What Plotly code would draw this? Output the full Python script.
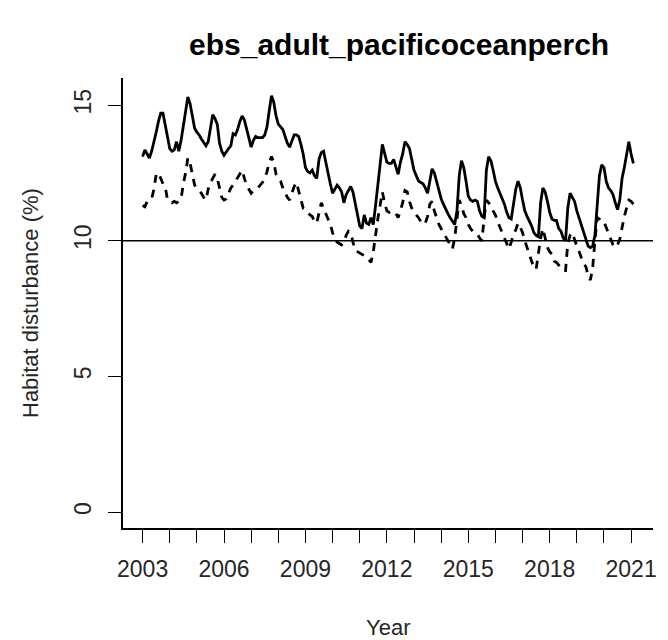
import plotly.graph_objects as go

title_text = "ebs_adult_pacificoceanperch"
x_title = "Year"
y_title = "Habitat disturbance (%)"
start_year = 2003
year_ticks = list(range(2003, 2022))
year_labels = ["2003", "", "", "2006", "", "", "2009", "", "", "2012", "", "",
               "2015", "", "", "2018", "", "", "2021"]
y_ticks = [0, 5, 10, 15]
reference_level = 10

# monthly values, Jan 2003 onward
solid_values = [
    13.1, 13.35, 13.2, 13.05, 13.3, 13.6, 14.0, 14.4, 14.7, 14.7, 14.3, 13.9,
    13.4, 13.3, 13.35, 13.65, 13.3, 13.7, 14.3, 14.9, 15.3, 15.05, 14.6, 14.15,
    14.0, 13.9, 13.75, 13.6, 13.5, 13.65, 14.2, 14.65, 14.5, 14.3, 13.6, 13.3,
    13.15, 13.3, 13.4, 13.5, 13.95, 13.9, 14.1, 14.4, 14.6, 14.45, 14.1, 13.8,
    13.45, 13.7, 13.85, 13.8, 13.8, 13.8, 13.9, 14.2, 14.8, 15.35, 15.1, 14.6,
    14.3, 14.2, 14.1, 13.85, 13.6, 13.45, 13.7, 13.9, 13.9, 13.85, 13.55, 13.2,
    12.7, 12.55, 12.5, 12.6, 12.4, 12.3, 13.0, 13.25, 13.3, 12.95, 12.5, 12.1,
    11.75, 11.9, 12.05, 11.95, 11.8, 11.4, 11.7, 11.85, 12.0, 11.8, 11.35, 10.95,
    10.55, 10.45, 10.95, 10.65, 10.6, 10.85, 10.6, 11.3, 11.95, 12.8, 13.55, 13.2,
    12.9, 12.85, 12.85, 13.0, 12.7, 12.45, 12.9, 13.2, 13.65, 13.55, 13.4, 13.0,
    12.6, 12.4, 12.2, 12.15, 12.1, 11.95, 11.75, 12.2, 12.65, 12.5, 12.15, 11.8,
    11.55, 11.35, 11.15, 11.0, 10.85, 10.7, 10.6, 11.1, 12.4, 12.95, 12.7, 12.2,
    11.65, 11.5, 11.45, 11.5, 11.45, 11.1, 10.9, 10.85, 12.6, 13.1, 12.95, 12.6,
    12.2, 11.95, 11.75, 11.6, 11.35, 11.05, 10.85, 10.8, 11.3, 11.9, 12.2, 11.95,
    11.5, 11.1, 10.9, 10.75, 10.55, 10.3, 10.2, 10.15, 11.4, 11.95, 11.8, 11.45,
    11.05, 10.8, 10.75, 10.75, 10.45, 10.35, 10.1, 10.0, 11.2, 11.75, 11.6, 11.45,
    11.1, 10.85, 10.6, 10.35, 10.1, 9.8, 9.75, 9.8, 10.2, 11.5, 12.4, 12.8,
    12.7, 12.2, 11.95, 11.85, 11.7, 11.4, 11.15, 11.5, 12.3, 12.7, 13.2, 13.65,
    13.2, 12.85,
]

dashed_values = [
    11.3, 11.25, 11.45, 11.5, 11.55, 11.9, 12.45, 12.5, 12.3, 12.1, 12.0, 11.5,
    11.45, 11.4, 11.45, 11.4, 11.45, 11.55, 12.1, 12.5, 13.05, 12.85, 12.45, 12.05,
    11.95, 11.85, 11.75, 11.6, 11.5, 11.9, 12.15, 12.3, 12.45, 12.3, 11.9, 11.6,
    11.5, 11.55, 11.75, 11.95, 12.05, 12.2, 12.35, 12.5, 12.6, 12.3, 12.05, 11.9,
    11.75, 11.85, 11.9, 11.95, 12.05, 12.15, 12.3, 12.55, 12.9, 13.1, 12.9, 12.45,
    12.3, 12.2, 11.95, 11.75, 11.6, 11.5, 11.75, 12.0, 12.15, 11.85, 11.55, 11.2,
    11.15, 11.05, 10.95, 10.9, 10.7, 10.65, 11.1, 11.4, 11.2, 11.0, 10.8, 10.6,
    10.3, 10.05, 9.95, 9.9, 9.85, 9.95, 10.2, 10.35, 10.3, 9.95, 9.65, 9.6,
    9.55, 9.5, 9.45, 9.4, 9.3, 9.2, 9.6, 10.25, 10.8, 11.3, 11.8, 11.4,
    11.1, 11.05, 11.1, 11.05, 11.0, 10.85, 11.15, 11.4, 11.85, 11.8, 11.45, 11.2,
    11.05, 10.95, 10.85, 10.7, 10.6, 10.65, 10.9, 11.35, 11.45, 11.1, 10.85, 10.6,
    10.45, 10.3, 10.15, 10.0, 9.85, 9.7, 10.1, 10.8, 11.5, 11.3, 11.0, 10.85,
    10.6, 10.45, 10.35, 10.3, 10.25, 10.1, 10.0, 10.8, 11.5, 11.4, 11.3, 11.1,
    10.95, 10.7, 10.5, 10.3, 10.05, 9.85, 9.7, 9.95, 10.25, 10.4, 10.65, 10.5,
    10.3, 10.0, 9.75, 9.45, 9.2, 9.0, 8.95, 9.5, 10.1, 10.45, 10.1, 9.75,
    9.6, 9.5, 9.25, 9.2, 9.1, 8.95, 8.9, 8.9, 9.9, 10.2, 10.3, 10.0,
    9.8, 9.6, 9.35, 9.15, 9.05, 8.7, 8.55, 9.0, 10.0, 10.85, 10.8, 10.7,
    10.7, 10.5, 10.3, 10.05, 9.85, 9.75, 9.85, 10.05, 10.5, 10.9, 11.2, 11.5,
    11.45, 11.35,
]

time_axis = [start_year + i / 12 for i in range(len(solid_values))]

FONT = "Arial, 'Liberation Sans', sans-serif"
TXT = "#262626"

fig = go.Figure()
fig.add_trace(go.Scatter(x=time_axis, y=solid_values, mode="lines",
                         line=dict(color="black", width=2.8), showlegend=False))
fig.add_trace(go.Scatter(x=time_axis, y=dashed_values, mode="lines",
                         line=dict(color="black", width=2.8, dash="8px,7px"),
                         showlegend=False))
fig.add_hline(y=reference_level, line=dict(color="black", width=1.5))

fig.update_layout(
    width=668, height=640,
    margin=dict(l=123, r=11, t=78, b=112),
    paper_bgcolor="white", plot_bgcolor="white",
    font=dict(family=FONT, size=22, color=TXT),
    showlegend=False,
)
fig.update_xaxes(
    range=[2002.277, 2021.807],
    tickmode="array", tickvals=year_ticks, ticktext=year_labels,
    ticks="outside", ticklen=13, tickwidth=1.3, tickcolor="black",
    showline=True, linecolor="black", linewidth=1.5,
    showgrid=False, zeroline=False,
    tickfont=dict(size=23, color=TXT),
    ticklabelstandoff=7,
)
fig.update_yaxes(
    range=[-0.59, 16.0],
    tickmode="array", tickvals=y_ticks, ticktext=[str(v) for v in y_ticks],
    ticks="outside", ticklen=13, tickwidth=1.3, tickcolor="black",
    showline=True, linecolor="black", linewidth=1.5,
    showgrid=False, zeroline=False, tickangle=-90,
    tickfont=dict(size=23, color=TXT),
    ticklabelstandoff=8,
)
fig.add_annotation(text="<b>" + title_text + "</b>", xref="paper", yref="paper",
                   x=0.52, y=1.0, yshift=34, showarrow=False, xanchor="center",
                   yanchor="middle", font=dict(size=30, color="black", family=FONT))
fig.add_annotation(text=x_title, xref="paper", yref="paper", x=0.5, y=0,
                   yshift=-99, showarrow=False, xanchor="center", yanchor="middle",
                   font=dict(size=22, color=TXT, family=FONT))
fig.add_annotation(text=y_title, xref="paper", yref="paper", x=0, y=0.5,
                   xshift=-93, showarrow=False, xanchor="center", yanchor="middle",
                   textangle=-90, font=dict(size=22, color=TXT, family=FONT))

fig.write_html(
    "out.html",
    config={"displayModeBar": False},
    post_script="document.body.style.margin='0';document.body.style.overflow='hidden';",
)
